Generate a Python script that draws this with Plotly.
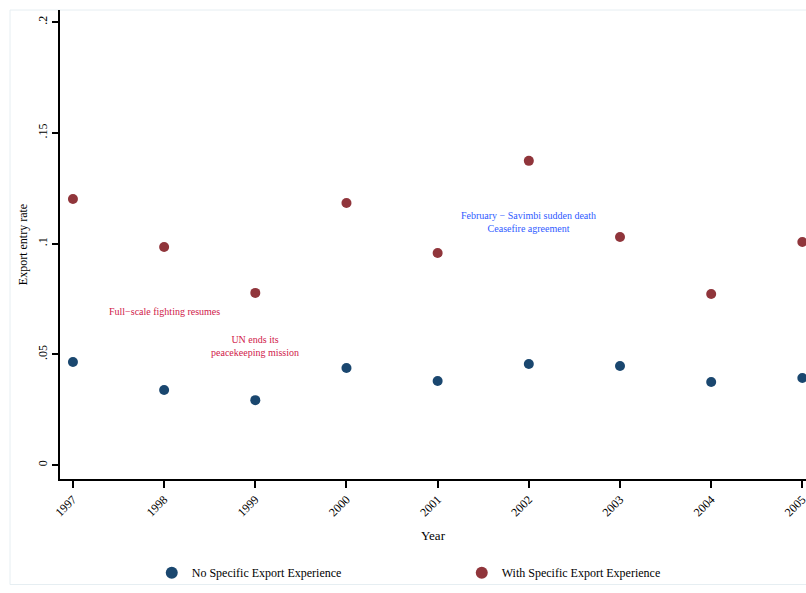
import plotly.graph_objects as go

years = [1997, 1998, 1999, 2000, 2001, 2002, 2003, 2004, 2005]
no_exp = [0.0465, 0.0339, 0.0293, 0.0438, 0.0379, 0.0456, 0.0447, 0.0375, 0.0393]
with_exp = [0.1201, 0.0984, 0.0777, 0.1183, 0.0957, 0.1373, 0.1029, 0.0772, 0.1007]
y_ticks = [0, 0.05, 0.1, 0.15, 0.2]
y_tick_labels = ["0", ".05", ".1", ".15", ".2"]

font = "Liberation Serif, Times New Roman, serif"

fig = go.Figure()
fig.add_trace(go.Scatter(x=years, y=no_exp, mode="markers", name="No Specific Export Experience",
                         marker=dict(color="#1a476f", size=10), cliponaxis=False))
fig.add_trace(go.Scatter(x=years, y=with_exp, mode="markers", name="With Specific Export Experience",
                         marker=dict(color="#90353b", size=10), cliponaxis=False))

fig.add_annotation(x=1998, y=0.0695, text="Full\u2212scale fighting resumes", showarrow=False,
                   font=dict(family=font, size=10, color="#d0204a"))
fig.add_annotation(x=1999, y=0.0537, text="UN ends its<br>peacekeeping mission", showarrow=False,
                   font=dict(family=font, size=10, color="#d0204a"))
fig.add_annotation(x=2002, y=0.1097, text="February \u2212 Savimbi sudden death<br>Ceasefire agreement",
                   showarrow=False, font=dict(family=font, size=10, color="#2f5bff"))

# faint outer frame
fig.add_shape(type="rect", xref="paper", yref="paper", x0=-0.067, x1=1.05, y0=-0.225, y1=1.0,
              line=dict(color="#e6eef2", width=1), layer="below")

fig.update_layout(
    width=806, height=593,
    margin=dict(l=60, r=0, t=10, b=114),
    paper_bgcolor="white", plot_bgcolor="white",
    font=dict(family=font, size=12, color="black"),
    showlegend=True,
    legend=dict(orientation="h", x=0.123, y=-0.2, xanchor="left", yanchor="middle",
                bgcolor="rgba(0,0,0,0)",
                font=dict(family=font, size=12), entrywidth=265, itemsizing="constant"),
    xaxis=dict(range=[1996.858, 2005.04], tickvals=years, ticktext=[str(y) for y in years],
               tickangle=-45, ticks="outside", ticklen=7, tickwidth=1.5, tickcolor="black",
               showline=True, linecolor="black", linewidth=1.5, showgrid=False, zeroline=False,
               title=dict(text="Year", font=dict(size=13), standoff=12), automargin=False,
               ticklabeloverflow="allow", tickfont=dict(size=12)),
    yaxis=dict(range=[-0.0063, 0.2054], tickvals=y_ticks, ticktext=y_tick_labels,
               tickangle=-90, ticks="outside", ticklen=6, tickwidth=1.5, tickcolor="black",
               showline=True, linecolor="black", linewidth=1.5, showgrid=False, zeroline=False,
               title=dict(text="Export entry rate", font=dict(size=12), standoff=6), automargin=False,
               tickfont=dict(size=12)),
)

fig.write_html("out.html", config={"displayModeBar": False},
               post_script="document.body.style.margin='0';")
